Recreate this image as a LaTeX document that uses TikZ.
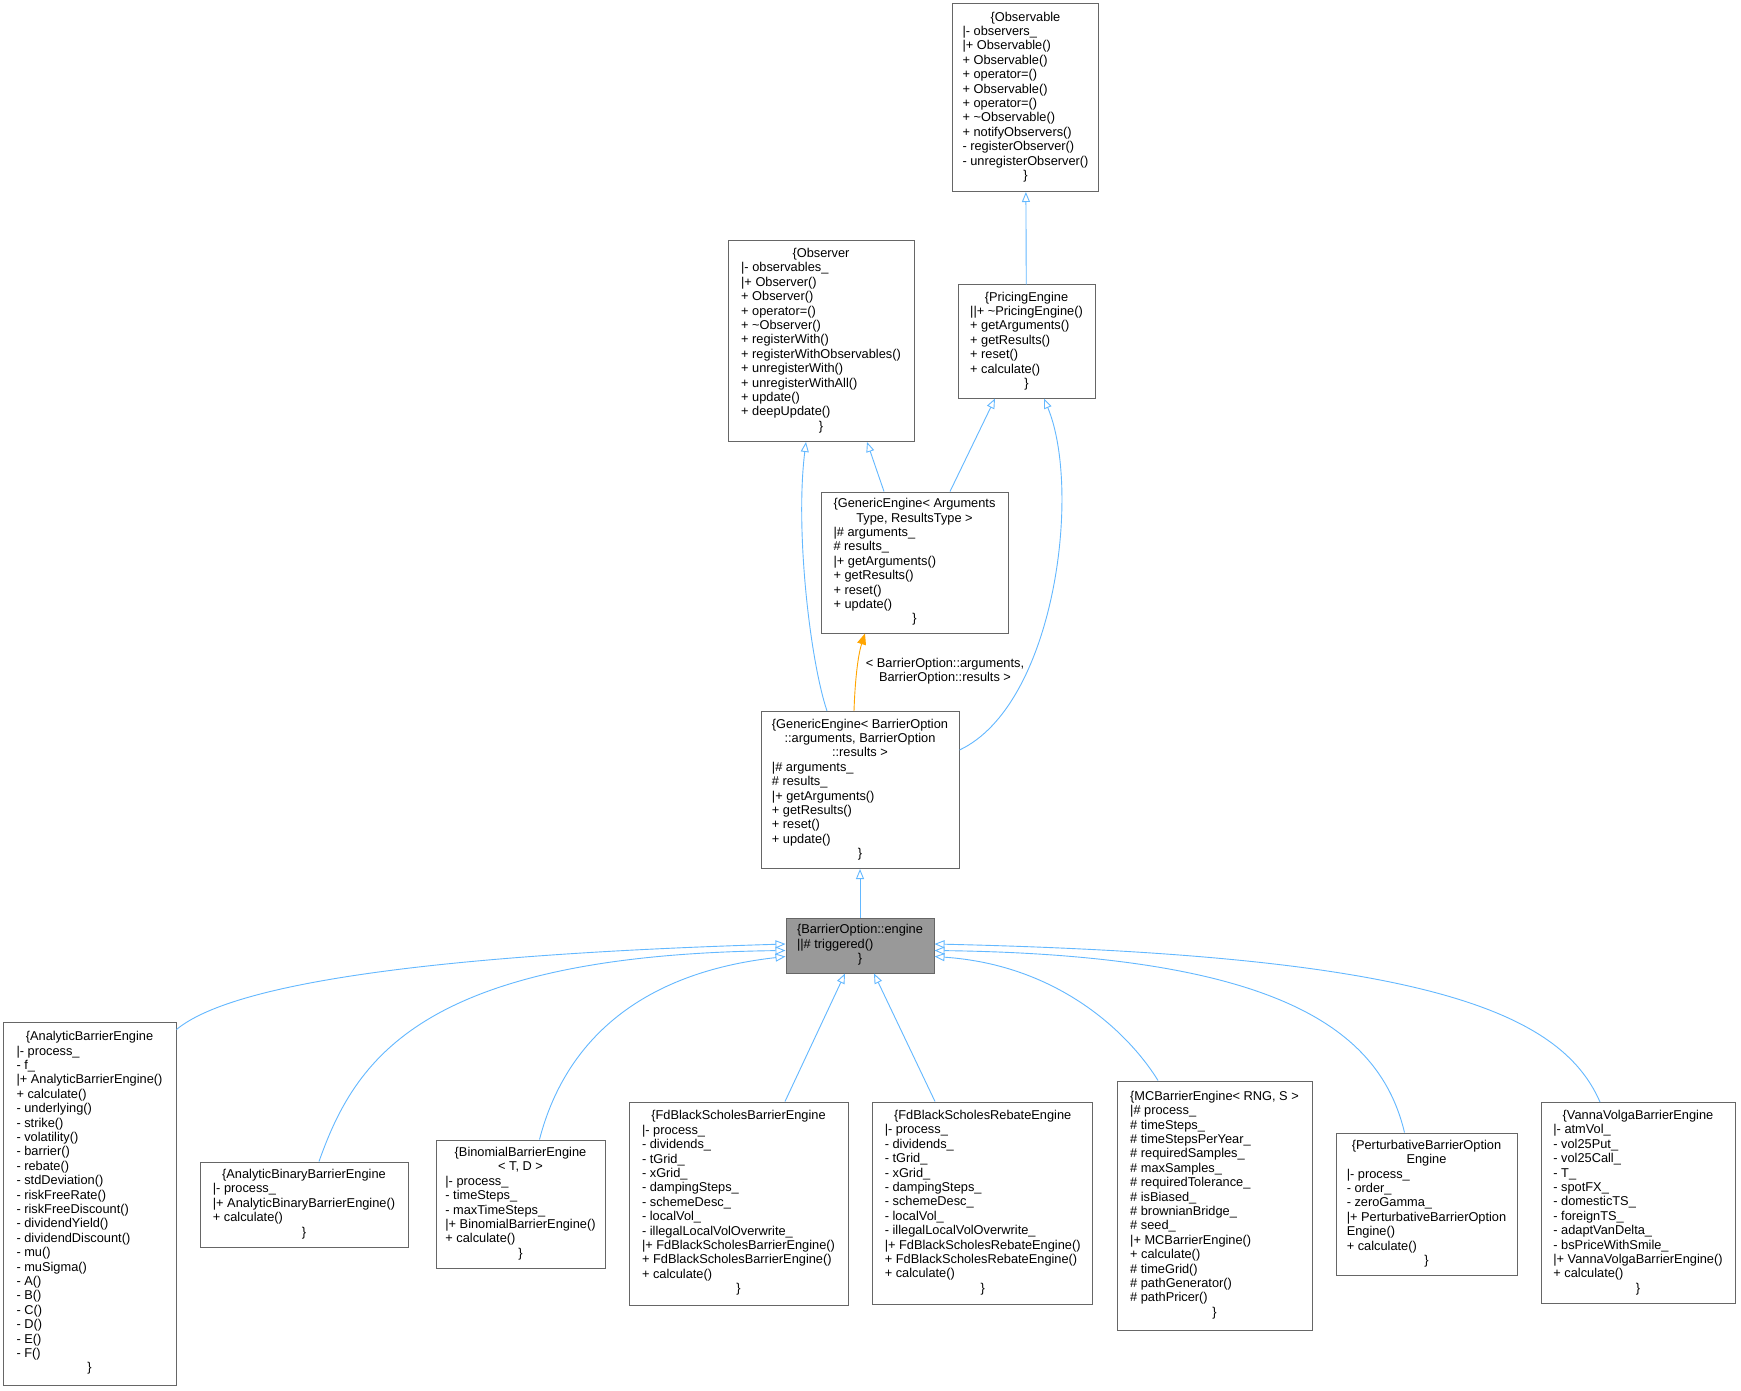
\documentclass[tikz,border=0pt]{standalone}
\usepackage{fontspec}
\setmainfont{Liberation Sans}
\usetikzlibrary{arrows.meta}
\definecolor{EdgeBlue}{HTML}{63B8FF}
\definecolor{TmplOrange}{HTML}{FFA500}
\definecolor{BoxGray}{HTML}{666666}
\definecolor{CurGray}{HTML}{999999}
\newcommand{\ctrline}[1]{\multicolumn{1}{@{}c@{}}{#1}}
\newcommand{\members}[1]{\begin{tabular}{@{}l@{}}#1\end{tabular}}

\begin{document}
\begin{tikzpicture}[
      x=1pt, y=-1pt,
      cls/.style={draw=BoxGray,fill=white,line width=1pt,inner sep=0pt,font=\fontsize{12.8}{14.4}\selectfont},
      cur/.style={cls,fill=CurGray},
      inh/.style={draw=EdgeBlue,line width=0.9pt,-{Triangle[open,length=10pt,width=8pt]}},
      tmpl/.style={draw=TmplOrange,line width=0.9pt,-{Triangle[length=11pt,width=9pt]}}
    ]
      \fill[white] (0,0) rectangle (1741,1391);
      \useasboundingbox (0,0) rectangle (1741,1391);

      % base classes
      \node[cls,minimum width=146pt,minimum height=188pt] (obs) at (1025.5,97.5) {\members{\ctrline{\{Observable}\\|- observers\_\\|+ Observable()\\+ Observable()\\+ operator=()\\+ Observable()\\+ operator=()\\+ \textasciitilde Observable()\\+ notifyObservers()\\- registerObserver()\\- unregisterObserver()\\\ctrline{\}}}};
      \node[cls,minimum width=186pt,minimum height=201pt] (obsr) at (821,341) {\members{\ctrline{\{Observer}\\|- observables\_\\|+ Observer()\\+ Observer()\\+ operator=()\\+ \textasciitilde Observer()\\+ registerWith()\\+ registerWithObservables()\\+ unregisterWith()\\+ unregisterWithAll()\\+ update()\\+ deepUpdate()\\\ctrline{\}}}};
      \node[cls,minimum width=137pt,minimum height=113pt] (pe) at (1026.5,341.5) {\members{\ctrline{\{PricingEngine}\\||+ \textasciitilde PricingEngine()\\+ getArguments()\\+ getResults()\\+ reset()\\+ calculate()\\\ctrline{\}}}};
      \node[cls,minimum width=187pt,minimum height=141pt] (gea) at (914.5,562.5) {\members{\ctrline{\{GenericEngine< Arguments}\\\ctrline{Type, ResultsType >}\\|\# arguments\_\\\# results\_\\|+ getArguments()\\+ getResults()\\+ reset()\\+ update()\\\ctrline{\}}}};
      \node[cls,minimum width=198pt,minimum height=157pt] (gebo) at (860,790) {\members{\ctrline{\{GenericEngine< BarrierOption}\\\ctrline{::arguments, BarrierOption}\\\ctrline{::results >}\\|\# arguments\_\\\# results\_\\|+ getArguments()\\+ getResults()\\+ reset()\\+ update()\\\ctrline{\}}}};
      \node[cur,minimum width=148pt,minimum height=55pt] (eng) at (860,945.5) {\members{\ctrline{\{BarrierOption::engine}\\||\# triggered()\\\ctrline{\}}}};
      \node[font=\fontsize{12.8}{14.4}\selectfont,align=center,inner sep=0pt] (tmpllbl) at (945,671) {< BarrierOption::arguments,\\BarrierOption::results >};

      % engines
      \node[cls,minimum width=173pt,minimum height=363pt] (ab) at (89.5,1203.5) {\members{\ctrline{\{AnalyticBarrierEngine}\\|- process\_\\- f\_\\|+ AnalyticBarrierEngine()\\+ calculate()\\- underlying()\\- strike()\\- volatility()\\- barrier()\\- rebate()\\- stdDeviation()\\- riskFreeRate()\\- riskFreeDiscount()\\- dividendYield()\\- dividendDiscount()\\- mu()\\- muSigma()\\- A()\\- B()\\- C()\\- D()\\- E()\\- F()\\\ctrline{\}}}};
      \node[cls,minimum width=208pt,minimum height=85pt] (abb) at (304,1204.5) {\members{\ctrline{\{AnalyticBinaryBarrierEngine}\\|- process\_\\|+ AnalyticBinaryBarrierEngine()\\+ calculate()\\\ctrline{\}}}};
      \node[cls,minimum width=169pt,minimum height=128pt] (bin) at (520.5,1204) {\members{\ctrline{\{BinomialBarrierEngine}\\\ctrline{< T, D >}\\|- process\_\\- timeSteps\_\\- maxTimeSteps\_\\|+ BinomialBarrierEngine()\\+ calculate()\\\ctrline{\}}}};
      \node[cls,minimum width=219pt,minimum height=203pt] (fdb) at (738.5,1203.5) {\members{\ctrline{\{FdBlackScholesBarrierEngine}\\|- process\_\\- dividends\_\\- tGrid\_\\- xGrid\_\\- dampingSteps\_\\- schemeDesc\_\\- localVol\_\\- illegalLocalVolOverwrite\_\\|+ FdBlackScholesBarrierEngine()\\+ FdBlackScholesBarrierEngine()\\+ calculate()\\\ctrline{\}}}};
      \node[cls,minimum width=220pt,minimum height=202pt] (fdr) at (982.7,1203) {\members{\ctrline{\{FdBlackScholesRebateEngine}\\|- process\_\\- dividends\_\\- tGrid\_\\- xGrid\_\\- dampingSteps\_\\- schemeDesc\_\\- localVol\_\\- illegalLocalVolOverwrite\_\\|+ FdBlackScholesRebateEngine()\\+ FdBlackScholesRebateEngine()\\+ calculate()\\\ctrline{\}}}};
      \node[cls,minimum width=195pt,minimum height=249pt] (mc) at (1214.5,1205.5) {\members{\ctrline{\{MCBarrierEngine< RNG, S >}\\|\# process\_\\\# timeSteps\_\\\# timeStepsPerYear\_\\\# requiredSamples\_\\\# maxSamples\_\\\# requiredTolerance\_\\\# isBiased\_\\\# brownianBridge\_\\\# seed\_\\|+ MCBarrierEngine()\\+ calculate()\\\# timeGrid()\\\# pathGenerator()\\\# pathPricer()\\\ctrline{\}}}};
      \node[cls,minimum width=181pt,minimum height=142pt] (pert) at (1426.5,1204) {\members{\ctrline{\{PerturbativeBarrierOption}\\\ctrline{Engine}\\|- process\_\\- order\_\\- zeroGamma\_\\|+ PerturbativeBarrierOption\\Engine()\\+ calculate()\\\ctrline{\}}}};
      \node[cls,minimum width=194pt,minimum height=201pt] (vv) at (1638,1203) {\members{\ctrline{\{VannaVolgaBarrierEngine}\\|- atmVol\_\\- vol25Put\_\\- vol25Call\_\\- T\_\\- spotFX\_\\- domesticTS\_\\- foreignTS\_\\- adaptVanDelta\_\\- bsPriceWithSmile\_\\|+ VannaVolgaBarrierEngine()\\+ calculate()\\\ctrline{\}}}};

      % inheritance
      \draw[inh] (pe) -- (obs);
      \draw[inh] ([xshift=-30.5pt]gea.north) -- ([xshift=46pt]obsr.south);
      \draw[inh] ([xshift=35.5pt]gea.north) -- ([xshift=-31.5pt]pe.south);
      \draw[inh] ([xshift=-33pt]gebo.north) .. controls (810,660) and (795,530) .. ([xshift=-15pt]obsr.south);
      \draw[tmpl] ([xshift=-6pt]gebo.north) .. controls (855,680) and (858,655) .. ([xshift=-49.5pt]gea.south);
      \draw[inh] ([yshift=40pt]gebo.east) .. controls (1055,705) and (1082,490) .. ([xshift=17.5pt]pe.south);
      \draw[inh] (eng) -- (gebo);

      \draw[inh] ([yshift=-8pt]ab.north east) .. controls (230,985) and (420,955) .. ([yshift=1.5pt]eng.west);
      \draw[inh] ([xshift=15pt]abb.north) .. controls (355,1060) and (420,955) .. ([yshift=-5pt]eng.west);
      \draw[inh] ([xshift=19pt]bin.north) .. controls (560,1060) and (620,975) .. ([yshift=-11pt]eng.west);
      \draw[inh] ([xshift=46.5pt]fdb.north) -- ([xshift=-15pt]eng.south);
      \draw[inh] ([xshift=-47.7pt]fdr.north) -- ([xshift=14pt]eng.south);
      \draw[inh] ([xshift=-56.5pt]mc.north) .. controls (1130,1035) and (1060,965) .. ([yshift=-11pt]eng.east);
      \draw[inh] ([xshift=-22pt]pert.north) .. controls (1380,1030) and (1280,955) .. ([yshift=-5pt]eng.east);
      \draw[inh] ([xshift=-38pt]vv.north) .. controls (1560,1010) and (1420,955) .. ([yshift=1.5pt]eng.east);
    \end{tikzpicture}
\end{document}
